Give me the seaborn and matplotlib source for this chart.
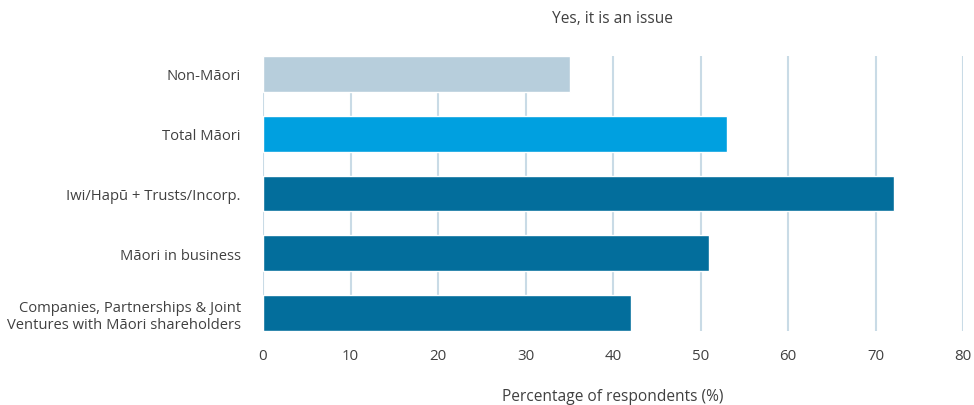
import matplotlib
matplotlib.use("Agg")
import matplotlib.pyplot as plt
import seaborn as sns
import pandas as pd

categories = ["Non-Māori", "Total Māori", "Iwi/Hapū + Trusts/Incorp.", "Māori in business",
              "Companies, Partnerships & Joint\nVentures with Māori shareholders"]
values = [35.1, 53.0, 72.1, 51.0, 42.1]
bar_colors = ["#B7CEDC", "#00A0E0", "#036E9C", "#036E9C", "#036E9C"]
xticks = [0, 10, 20, 30, 40, 50, 60, 70, 80]

sns.set_style("white")
plt.rcParams['font.family'] = ['Open Sans', 'DejaVu Sans']

df = pd.DataFrame({"category": categories, "value": values})

fig = plt.figure(figsize=(9.74, 4.06), dpi=100)
ax = fig.add_axes([263/974, 1 - 332/406, 700/974, 275/406])
sns.barplot(data=df, x="value", y="category", hue="category", palette=bar_colors,
            legend=False, width=0.6, ax=ax, zorder=3, saturation=1)

ax.set_xlim(0, 80)
ax.set_ylim(4.3, -0.3)
ax.set_xticks(xticks)
ax.set_xticklabels([str(t) for t in xticks])
for s in ax.spines.values():
    s.set_visible(False)
ax.grid(axis="x", color="#C9DBE6", linewidth=1.5, zorder=0)
ax.grid(axis="y", visible=False)
ax.set_axisbelow(True)
ax.tick_params(axis="both", length=0, labelcolor="#404040")
ax.tick_params(axis="x", pad=12, labelsize=10.8)
ax.tick_params(axis="y", pad=16, labelsize=10.6)
for lab in ax.get_yticklabels():
    lab.set_horizontalalignment("right")
    lab.set_linespacing(1.15)
ax.set_ylabel("")
ax.set_xlabel("Percentage of respondents (%)", fontsize=11.2, color="#404040", labelpad=18)
fig.text(612/974, 1 - 19/406, "Yes, it is an issue", ha="center", va="center",
         fontsize=11.2, color="#404040")

fig.savefig("out.png", dpi=100)
